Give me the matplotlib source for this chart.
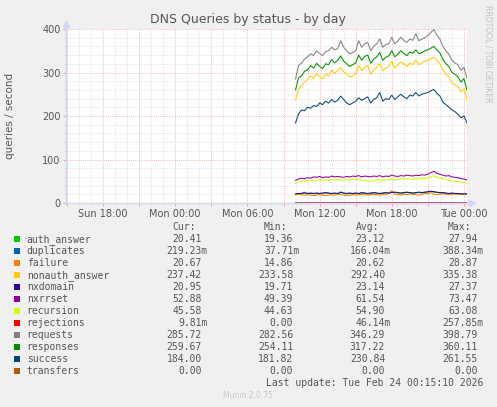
import matplotlib
matplotlib.use('Agg')

import matplotlib.pyplot as plt
import matplotlib.dates as mdates
from matplotlib.patches import Rectangle
from matplotlib.ticker import MultipleLocator, FuncFormatter
import pandas as pd

W, H = 497, 407

# 15 minute samples, Mon 10:00 -> Tue 00:15
times = pd.date_range('2026-02-23 10:00', '2026-02-24 00:15', freq='15min')

auth_answer = [20, 21, 22, 25, 21, 22, 21, 22, 21, 22,
               23, 22, 21, 22, 21, 26, 22, 21, 22, 21,
               22, 21, 23, 22, 21, 22, 23, 22, 21, 22,
               23, 22, 26, 24, 23, 22, 23, 24, 23, 22,
               23, 24, 23, 24, 25, 27, 25, 24, 23, 23,
               22, 21, 22, 21, 21, 20, 20, 20.4]
duplicates = [0.12, 0.15, 0.18, 0.14, 0.2, 0.16, 0.13, 0.17, 0.19, 0.15,
              0.14, 0.18, 0.2, 0.16, 0.15, 0.22, 0.17, 0.13, 0.16, 0.18,
              0.15, 0.19, 0.17, 0.14, 0.16, 0.2, 0.18, 0.15, 0.17, 0.21,
              0.16, 0.14, 0.39, 0.18, 0.15, 0.17, 0.19, 0.16, 0.14, 0.18,
              0.2, 0.17, 0.15, 0.16, 0.19, 0.18, 0.21, 0.17, 0.15, 0.16,
              0.14, 0.18, 0.17, 0.15, 0.04, 0.16, 0.18, 0.22]
failure = [19, 20, 19, 18, 19, 18, 17, 18, 19, 18,
           17, 18, 19, 18, 20, 19, 18, 17, 18, 19,
           18, 19, 20, 19, 18, 19, 20, 19, 18, 20,
           19, 22, 28, 20, 19, 18, 20, 19, 21, 20,
           19, 18, 20, 22, 21, 24, 20, 19, 20, 21,
           20, 19, 20, 21, 20, 21, 20, 20.7]
nonauth_answer = [237, 262, 270, 278, 284, 292, 286, 298, 290, 285,
                  297, 292, 306, 298, 304, 312, 302, 296, 290, 292,
                  298, 316, 304, 312, 316, 296, 306, 312, 320, 304,
                  310, 314, 326, 310, 318, 324, 320, 314, 322, 318,
                  328, 318, 322, 326, 328, 332, 335, 328, 320, 306,
                  296, 290, 276, 272, 268, 256, 262, 237]
nxdomain = [21, 22, 22, 23, 22, 23, 22, 23, 22, 23,
            24, 23, 22, 23, 22, 24, 23, 22, 23, 22,
            23, 22, 24, 23, 22, 23, 24, 23, 22, 23,
            24, 23, 24, 25, 24, 23, 24, 25, 24, 23,
            24, 25, 24, 25, 26, 27, 26, 25, 24, 24,
            23, 22, 23, 22, 22, 21, 21, 21]
nxrrset = [52, 55, 57, 56, 58, 57, 60, 59, 61, 58,
           60, 59, 62, 60, 61, 60, 59, 61, 60, 62,
           61, 63, 60, 62, 61, 60, 62, 61, 63, 60,
           62, 61, 64, 62, 61, 63, 62, 64, 63, 62,
           64, 63, 65, 64, 66, 70, 73, 68, 66, 64,
           62, 63, 60, 59, 58, 56, 55, 53]
recursion = [45, 49, 51, 50, 52, 51, 53, 52, 54, 52,
             53, 52, 55, 53, 54, 53, 52, 54, 53, 55,
             54, 55, 53, 52, 51, 50, 52, 53, 54, 52,
             53, 54, 55, 53, 54, 56, 55, 56, 55, 54,
             56, 55, 57, 56, 58, 61, 63, 60, 57, 56,
             54, 53, 51, 50, 49, 48, 47, 45.6]
rejections = [0, 0.02, 0.05, 0, 0.1, 0.03, 0, 0.04, 0.08, 0,
              0.02, 0, 0.06, 0.03, 0, 0.26, 0.04, 0, 0.02, 0.05,
              0, 0.03, 0.07, 0, 0.02, 0.04, 0, 0.09, 0.03, 0,
              0.05, 0.02, 0, 0.06, 0.04, 0, 0.03, 0.08, 0.02, 0,
              0.04, 0.06, 0, 0.03, 0.05, 0.02, 0, 0.07, 0.04, 0,
              0.03, 0.02, 0, 0.05, 0.02, 0, 0.01, 0.01]
requests = [285, 316, 322, 331, 336, 343, 339, 350, 344, 339,
            348, 350, 358, 352, 355, 373, 358, 350, 343, 346,
            350, 373, 358, 366, 369, 350, 360, 366, 377, 358,
            364, 366, 381, 366, 372, 381, 374, 369, 377, 374,
            389, 373, 377, 380, 385, 392, 399, 386, 377, 360,
            350, 342, 328, 322, 318, 305, 312, 286]
responses = [260, 288, 292, 303, 306, 316, 310, 321, 314, 309,
             320, 318, 330, 322, 328, 338, 326, 320, 314, 318,
             322, 340, 328, 337, 340, 321, 331, 336, 346, 328,
             335, 338, 350, 336, 342, 350, 344, 339, 347, 344,
             352, 343, 346, 350, 352, 356, 360, 352, 345, 330,
             320, 314, 300, 296, 290, 278, 286, 260]
success = [184, 205, 214, 212, 220, 218, 224, 222, 230, 226,
           234, 230, 238, 232, 236, 246, 238, 230, 226, 230,
           234, 242, 236, 240, 244, 230, 238, 242, 254, 234,
           240, 238, 248, 238, 244, 250, 244, 240, 248, 246,
           254, 246, 250, 252, 254, 258, 261, 252, 246, 232,
           226, 220, 214, 210, 204, 196, 200, 184]
transfers = [0.0] * 58

names = ['auth_answer', 'duplicates', 'failure', 'nonauth_answer', 'nxdomain',
         'nxrrset', 'recursion', 'rejections', 'requests', 'responses',
         'success', 'transfers']
series = [auth_answer, duplicates, failure, nonauth_answer, nxdomain,
          nxrrset, recursion, rejections, requests, responses, success, transfers]
colors = ['#00CC00', '#0066B3', '#FF8000', '#FFCC00', '#330099', '#990099',
          '#CCFF00', '#FF0000', '#808080', '#008F00', '#00487D', '#B35A00']

cur_vals = [20.41, 0.21923, 20.67, 237.42, 20.95, 52.88, 45.58, 0.00981, 285.72, 259.67, 184.00, 0.0]
min_vals = [19.36, 0.03771, 14.86, 233.58, 19.71, 49.39, 44.63, 0.0, 282.56, 254.11, 181.82, 0.0]
avg_vals = [23.12, 0.16604, 20.62, 292.40, 23.14, 61.54, 54.90, 0.04614, 346.29, 317.22, 230.84, 0.0]
max_vals = [27.94, 0.38834, 28.87, 335.38, 27.37, 73.47, 63.08, 0.25785, 398.79, 360.11, 261.55, 0.0]

TXT = '#555555'


def fx(px):
    return px / W


def fy(py):
    return 1 - py / H


def fmt(v):
    if v != 0 and abs(v) < 1:
        return f'{v * 1000:.2f}m'
    return f'{v:.2f}'


fig = plt.figure(figsize=(W / 100, H / 100), dpi=100, facecolor='#F0F0F0')
ax = fig.add_axes([fx(66), fy(203), 401 / W, 174 / H])
ax.set_facecolor('white')

for name, vals, col in zip(names, series, colors):
    # near-zero series sit on the x axis; transfers is drawn last, over the axis
    z = 3 if name == 'transfers' else 2
    ax.plot(times, vals, color=col, linewidth=0.75, zorder=z)

end = pd.Timestamp('2026-02-24 00:15:10')
ax.set_xlim(end - pd.Timedelta(seconds=400 * 300), end)
ax.set_ylim(0, 400)

ax.xaxis.set_major_locator(mdates.HourLocator(byhour=range(0, 24, 3)))
ax.xaxis.set_minor_locator(mdates.HourLocator())


def xlabel(x, pos):
    d = mdates.num2date(x)
    return d.strftime('%a %H:%M') if d.hour % 6 == 0 else ''


ax.xaxis.set_major_formatter(FuncFormatter(xlabel))
ax.yaxis.set_major_locator(MultipleLocator(100))
ax.yaxis.set_minor_locator(MultipleLocator(20))

ax.grid(which='major', color='#F0A0A0', linestyle=(0, (1, 1.5)), linewidth=0.6, zorder=1)
ax.grid(which='minor', color='#D0D0D0', linestyle=(0, (1, 1.5)), linewidth=0.5, zorder=1)
ax.set_axisbelow(True)

ax.tick_params(which='major', length=2, color='#F0A0A0', labelsize=7, labelcolor=TXT, pad=2)
ax.tick_params(which='minor', length=1.5, color='#D0D0D0')

for s in ['top', 'right']:
    ax.spines[s].set_visible(False)
for s in ['left', 'bottom']:
    ax.spines[s].set_color('#CFD6F8')
    ax.spines[s].set_linewidth(1.0)

# axis arrows
ax.plot([0, 0], [1, 1.03], color='#CFD6F8', lw=1.0, transform=ax.transAxes, clip_on=False)
ax.plot([1, 1.012], [0, 0], color='#CFD6F8', lw=1.0, transform=ax.transAxes, clip_on=False)
ax.plot(0, 1.03, marker='^', ms=4, color='#CFD6F8', transform=ax.transAxes, clip_on=False)
ax.plot(1.012, 0, marker='>', ms=4, color='#CFD6F8', transform=ax.transAxes, clip_on=False)

fig.text(fx(248), fy(19), 'DNS Queries by status - by day', ha='center', va='center',
         fontsize=9, color=TXT)
fig.text(fx(10), fy(116), 'queries / second', rotation=90, ha='center', va='center',
         fontsize=7.5, color=TXT)
fig.text(fx(488), fy(5), 'RRDTOOL / TOBI OETIKER', rotation=270, ha='center', va='top',
         fontsize=5.5, color='#C0C0C0')

# legend table
mono = 'DejaVu Sans Mono'
cw = 5.9
col_ends = [207.7, 299.2, 391.0, 483.3]
heads = ['Cur:', 'Min:', 'Avg:', 'Max:']
for h, e in zip(heads, col_ends):
    fig.text(fx(e - 2 * cw), fy(227.3), h, ha='right', va='center',
             family=mono, fontsize=7, color=TXT)

for i, (name, col) in enumerate(zip(names, colors)):
    y = 239.3 + 12 * i
    fig.add_artist(Rectangle((fx(14), fy(y + 3)), 6 / W, 6 / H, transform=fig.transFigure,
                             facecolor=col, edgecolor='none'))
    fig.text(fx(26.7), fy(y), name, ha='left', va='center', family=mono, fontsize=7, color=TXT)
    for v, e in zip([cur_vals[i], min_vals[i], avg_vals[i], max_vals[i]], col_ends):
        s = fmt(v)
        xr = e if s.endswith('m') else e - cw
        fig.text(fx(xr), fy(y), s, ha='right', va='center', family=mono, fontsize=7, color=TXT)

fig.text(fx(483), fy(383.3), 'Last update: Tue Feb 24 00:15:10 2026', ha='right', va='center',
         family=mono, fontsize=7, color=TXT)
fig.text(fx(248), fy(395.7), 'Munin 2.0.75', ha='center', va='center', fontsize=5.5, color='#C8C8C8')

fig.savefig('out.png', dpi=100, facecolor=fig.get_facecolor())
